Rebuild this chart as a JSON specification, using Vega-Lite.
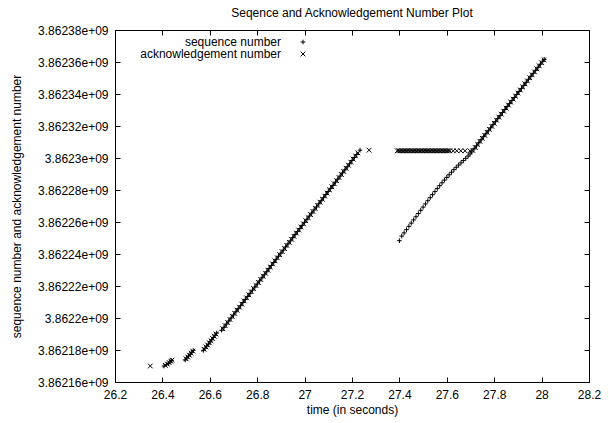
{
  "$schema": "https://vega.github.io/schema/vega-lite/v6.json",
  "width": 474,
  "height": 352,
  "autosize": "none",
  "padding": {"left": 115, "top": 30, "right": 20, "bottom": 41},
  "background": "white",
  "config": {
    "font": "Liberation Sans",
    "view": {"stroke": "black", "strokeWidth": 1},
    "axis": {
      "grid": false,
      "domain": false,
      "tickSize": -5,
      "tickColor": "black",
      "tickWidth": 1,
      "labelFontSize": 12,
      "labelColor": "black",
      "labelFlush": false,
      "labelOverlap": false,
      "labelBound": false,
      "titleFontSize": 12,
      "titleFontWeight": "normal",
      "titleColor": "black"
    }
  },
  "title": {"text": "Seqence and Acknowledgement Number Plot", "fontSize": 12, "fontWeight": "normal", "color": "black", "anchor": "middle", "offset": 4},
  "datasets": {
    "seq": [
      {"t":26.407,"n":3862170000},{"t":26.418,"n":3862170900},{"t":26.425,"n":3862171600},{"t":26.432,"n":3862172500},{"t":26.438,"n":3862173400},
      {"t":26.496,"n":3862173800},{"t":26.503,"n":3862175000},{"t":26.510,"n":3862176200},{"t":26.517,"n":3862177400},{"t":26.524,"n":3862178600},{"t":26.530,"n":3862179700},
      {"t":26.573,"n":3862179800},{"t":26.580,"n":3862181100},{"t":26.587,"n":3862182400},{"t":26.594,"n":3862183700},{"t":26.601,"n":3862185100},{"t":26.608,"n":3862186400},{"t":26.615,"n":3862187800},{"t":26.622,"n":3862189200},{"t":26.629,"n":3862190600},
      {"t":26.650,"n":3862192300},{"t":26.660,"n":3862194200},{"t":26.670,"n":3862196200},{"t":26.680,"n":3862198100},{"t":26.690,"n":3862200000},{"t":26.700,"n":3862201900},{"t":26.710,"n":3862203900},{"t":26.720,"n":3862205800},{"t":26.730,"n":3862207700},{"t":26.740,"n":3862209700},
      {"t":26.750,"n":3862211600},{"t":26.760,"n":3862213500},{"t":26.770,"n":3862215400},{"t":26.780,"n":3862217400},{"t":26.790,"n":3862219300},{"t":26.800,"n":3862221200},{"t":26.810,"n":3862223200},{"t":26.820,"n":3862225100},{"t":26.830,"n":3862227000},{"t":26.840,"n":3862228900},
      {"t":26.850,"n":3862230900},{"t":26.860,"n":3862232800},{"t":26.870,"n":3862234700},{"t":26.880,"n":3862236700},{"t":26.890,"n":3862238600},{"t":26.900,"n":3862240500},{"t":26.910,"n":3862242400},{"t":26.920,"n":3862244400},{"t":26.930,"n":3862246300},{"t":26.940,"n":3862248200},
      {"t":26.950,"n":3862250200},{"t":26.960,"n":3862252100},{"t":26.970,"n":3862254000},{"t":26.980,"n":3862255900},{"t":26.990,"n":3862257900},{"t":27.000,"n":3862259800},{"t":27.010,"n":3862261700},{"t":27.020,"n":3862263700},{"t":27.030,"n":3862265600},{"t":27.040,"n":3862267500},
      {"t":27.050,"n":3862269400},{"t":27.060,"n":3862271400},{"t":27.070,"n":3862273300},{"t":27.080,"n":3862275200},{"t":27.090,"n":3862277200},{"t":27.100,"n":3862279100},{"t":27.110,"n":3862281000},{"t":27.120,"n":3862282900},{"t":27.130,"n":3862284900},{"t":27.140,"n":3862286800},
      {"t":27.150,"n":3862288700},{"t":27.160,"n":3862290700},{"t":27.170,"n":3862292600},{"t":27.180,"n":3862294500},{"t":27.190,"n":3862296400},{"t":27.200,"n":3862298400},{"t":27.210,"n":3862300300},{"t":27.220,"n":3862302200},{"t":27.234,"n":3862304900},
      {"t":27.400,"n":3862248300},{"t":27.410,"n":3862251200},{"t":27.420,"n":3862253200},{"t":27.430,"n":3862255200},{"t":27.440,"n":3862257300},{"t":27.450,"n":3862259300},{"t":27.460,"n":3862261300},{"t":27.470,"n":3862263300},{"t":27.480,"n":3862265300},{"t":27.490,"n":3862267300},
      {"t":27.500,"n":3862269300},{"t":27.510,"n":3862271300},{"t":27.520,"n":3862273300},{"t":27.530,"n":3862275200},{"t":27.540,"n":3862277100},{"t":27.550,"n":3862279000},{"t":27.560,"n":3862280900},{"t":27.570,"n":3862282700},{"t":27.580,"n":3862284500},{"t":27.590,"n":3862286200},
      {"t":27.600,"n":3862287900},{"t":27.610,"n":3862289500},{"t":27.620,"n":3862291100},{"t":27.630,"n":3862292700},{"t":27.640,"n":3862294200},{"t":27.650,"n":3862295600},{"t":27.660,"n":3862297000},{"t":27.670,"n":3862298400},{"t":27.680,"n":3862299800},{"t":27.690,"n":3862301200},{"t":27.698,"n":3862302500},
      {"t":27.705,"n":3862303800},{"t":27.715,"n":3862305700},{"t":27.725,"n":3862307600},{"t":27.735,"n":3862309500},{"t":27.745,"n":3862311400},{"t":27.755,"n":3862313300},{"t":27.765,"n":3862315100},{"t":27.775,"n":3862317000},{"t":27.785,"n":3862318900},{"t":27.795,"n":3862320800},
      {"t":27.805,"n":3862322700},{"t":27.815,"n":3862324600},{"t":27.825,"n":3862326500},{"t":27.835,"n":3862328400},{"t":27.845,"n":3862330300},{"t":27.855,"n":3862332200},{"t":27.865,"n":3862334000},{"t":27.875,"n":3862335900},{"t":27.885,"n":3862337800},{"t":27.895,"n":3862339700},
      {"t":27.905,"n":3862341600},{"t":27.915,"n":3862343500},{"t":27.925,"n":3862345400},{"t":27.935,"n":3862347300},{"t":27.945,"n":3862349200},{"t":27.955,"n":3862351100},{"t":27.965,"n":3862352900},{"t":27.975,"n":3862354800},{"t":27.985,"n":3862356700},{"t":27.995,"n":3862358600},{"t":28.005,"n":3862360500},{"t":28.011,"n":3862361600}
    ],
    "ack": [
      {"t":26.349,"n":3862170000},
      {"t":26.412,"n":3862170400},{"t":26.421,"n":3862171200},{"t":26.429,"n":3862172100},{"t":26.436,"n":3862173000},{"t":26.440,"n":3862173700},
      {"t":26.500,"n":3862174500},{"t":26.507,"n":3862175600},{"t":26.514,"n":3862176800},{"t":26.521,"n":3862178000},{"t":26.528,"n":3862179300},
      {"t":26.576,"n":3862180400},{"t":26.584,"n":3862181900},{"t":26.591,"n":3862183100},{"t":26.598,"n":3862184500},{"t":26.605,"n":3862185800},{"t":26.612,"n":3862187200},{"t":26.619,"n":3862188600},{"t":26.626,"n":3862190000},
      {"t":26.655,"n":3862193300},{"t":26.665,"n":3862195200},{"t":26.675,"n":3862197200},{"t":26.685,"n":3862199100},{"t":26.695,"n":3862201000},{"t":26.705,"n":3862202900},{"t":26.715,"n":3862204900},{"t":26.725,"n":3862206800},{"t":26.735,"n":3862208700},{"t":26.745,"n":3862210700},
      {"t":26.755,"n":3862212600},{"t":26.765,"n":3862214500},{"t":26.775,"n":3862216400},{"t":26.785,"n":3862218400},{"t":26.795,"n":3862220300},{"t":26.805,"n":3862222200},{"t":26.815,"n":3862224100},{"t":26.825,"n":3862226100},{"t":26.835,"n":3862228000},{"t":26.845,"n":3862229900},
      {"t":26.855,"n":3862231900},{"t":26.865,"n":3862233800},{"t":26.875,"n":3862235700},{"t":26.885,"n":3862237600},{"t":26.895,"n":3862239600},{"t":26.905,"n":3862241500},{"t":26.915,"n":3862243400},{"t":26.925,"n":3862245400},{"t":26.935,"n":3862247300},{"t":26.945,"n":3862249200},
      {"t":26.955,"n":3862251100},{"t":26.965,"n":3862253100},{"t":26.975,"n":3862255000},{"t":26.985,"n":3862256900},{"t":26.995,"n":3862258900},{"t":27.005,"n":3862260800},{"t":27.015,"n":3862262700},{"t":27.025,"n":3862264600},{"t":27.035,"n":3862266600},{"t":27.045,"n":3862268500},
      {"t":27.055,"n":3862270400},{"t":27.065,"n":3862272400},{"t":27.075,"n":3862274300},{"t":27.085,"n":3862276200},{"t":27.095,"n":3862278100},{"t":27.105,"n":3862280100},{"t":27.115,"n":3862282000},{"t":27.125,"n":3862283900},{"t":27.135,"n":3862285800},{"t":27.145,"n":3862287800},
      {"t":27.155,"n":3862289700},{"t":27.165,"n":3862291600},{"t":27.175,"n":3862293600},{"t":27.185,"n":3862295500},{"t":27.195,"n":3862297400},{"t":27.205,"n":3862299300},{"t":27.215,"n":3862301300},{"t":27.225,"n":3862303200},
      {"t":27.272,"n":3862304900},
      {"t":27.391,"n":3862304500},{"t":27.397,"n":3862304500},{"t":27.403,"n":3862304500},{"t":27.409,"n":3862304500},{"t":27.415,"n":3862304500},{"t":27.421,"n":3862304500},{"t":27.427,"n":3862304500},{"t":27.433,"n":3862304500},{"t":27.439,"n":3862304500},{"t":27.445,"n":3862304500},
      {"t":27.451,"n":3862304500},{"t":27.457,"n":3862304500},{"t":27.463,"n":3862304500},{"t":27.469,"n":3862304500},{"t":27.475,"n":3862304500},{"t":27.481,"n":3862304500},{"t":27.487,"n":3862304500},{"t":27.493,"n":3862304500},{"t":27.499,"n":3862304500},{"t":27.505,"n":3862304500},
      {"t":27.511,"n":3862304500},{"t":27.517,"n":3862304500},{"t":27.523,"n":3862304500},{"t":27.529,"n":3862304500},{"t":27.535,"n":3862304500},{"t":27.541,"n":3862304500},{"t":27.547,"n":3862304500},{"t":27.553,"n":3862304500},{"t":27.559,"n":3862304500},{"t":27.565,"n":3862304500},
      {"t":27.571,"n":3862304500},{"t":27.577,"n":3862304500},{"t":27.583,"n":3862304500},{"t":27.589,"n":3862304500},{"t":27.595,"n":3862304500},{"t":27.601,"n":3862304500},{"t":27.607,"n":3862304500},{"t":27.613,"n":3862304500},
      {"t":27.627,"n":3862304500},{"t":27.642,"n":3862304500},{"t":27.659,"n":3862304500},{"t":27.677,"n":3862304500},{"t":27.698,"n":3862304500},
      {"t":27.710,"n":3862304700},{"t":27.720,"n":3862306600},{"t":27.730,"n":3862308500},{"t":27.740,"n":3862310400},{"t":27.750,"n":3862312300},{"t":27.760,"n":3862314200},{"t":27.770,"n":3862316100},{"t":27.780,"n":3862317900},{"t":27.790,"n":3862319800},{"t":27.800,"n":3862321700},
      {"t":27.810,"n":3862323600},{"t":27.820,"n":3862325500},{"t":27.830,"n":3862327400},{"t":27.840,"n":3862329300},{"t":27.850,"n":3862331200},{"t":27.860,"n":3862333100},{"t":27.870,"n":3862334900},{"t":27.880,"n":3862336800},{"t":27.890,"n":3862338700},{"t":27.900,"n":3862340600},
      {"t":27.910,"n":3862342500},{"t":27.920,"n":3862344400},{"t":27.930,"n":3862346300},{"t":27.940,"n":3862348200},{"t":27.950,"n":3862350100},{"t":27.960,"n":3862352000},{"t":27.970,"n":3862353800},{"t":27.980,"n":3862355700},{"t":27.990,"n":3862357600},{"t":28.000,"n":3862359500},{"t":28.010,"n":3862361400}
    ]
  },
  "layer": [
    {
      "data": {"name": "seq"},
      "mark": {"type": "point", "filled": false, "color": "black", "strokeWidth": 1, "size": 22, "opacity": 1},
      "encoding": {
        "x": {"field": "t", "type": "quantitative",
          "scale": {"domain": [26.2, 28.2], "nice": false, "zero": false},
          "axis": {"orient": "bottom", "values": [26.2, 26.4, 26.6, 26.8, 27, 27.2, 27.4, 27.6, 27.8, 28, 28.2], "format": "~g", "labelPadding": 12, "title": "time (in seconds)", "titlePadding": 4}},
        "y": {"field": "n", "type": "quantitative",
          "scale": {"domain": [3862160000, 3862380000], "nice": false, "zero": false},
          "axis": {"orient": "left", "values": [3862160000, 3862180000, 3862200000, 3862220000, 3862240000, 3862260000, 3862280000, 3862300000, 3862320000, 3862340000, 3862360000, 3862380000],
            "labelExpr": "replace(format(datum.value, '.6~e'), 'e+9', 'e+09')", "labelPadding": 12, "title": "sequence number and acknowledgement number", "titlePadding": 14}},
        "shape": {"datum": "sequence number", "type": "nominal",
          "scale": {"domain": ["sequence number", "acknowledgement number"], "range": ["M-1,0L1,0M0,-1L0,1", "M-1,-1L1,1M-1,1L1,-1"]},
          "legend": {"title": null, "orient": "none", "legendX": 182, "legendY": 6, "labelAlign": "right", "labelOffset": -28, "padding": 0, "rowPadding": 0, "labelFontSize": 12, "labelColor": "black", "symbolStrokeWidth": 1, "symbolSize": 22, "symbolStrokeColor": "black"}}
      }
    },
    {
      "data": {"name": "ack"},
      "mark": {"type": "point", "filled": false, "color": "black", "strokeWidth": 1, "size": 22, "opacity": 1},
      "encoding": {
        "x": {"field": "t", "type": "quantitative",
          "axis": {"orient": "top", "values": [26.2, 26.4, 26.6, 26.8, 27, 27.2, 27.4, 27.6, 27.8, 28, 28.2], "labels": false, "title": null}},
        "y": {"field": "n", "type": "quantitative",
          "axis": {"orient": "right", "values": [3862160000, 3862180000, 3862200000, 3862220000, 3862240000, 3862260000, 3862280000, 3862300000, 3862320000, 3862340000, 3862360000, 3862380000], "labels": false, "title": null}},
        "shape": {"datum": "acknowledgement number", "type": "nominal"}
      }
    }
  ],
  "resolve": {"axis": {"x": "independent", "y": "independent"}}
}
